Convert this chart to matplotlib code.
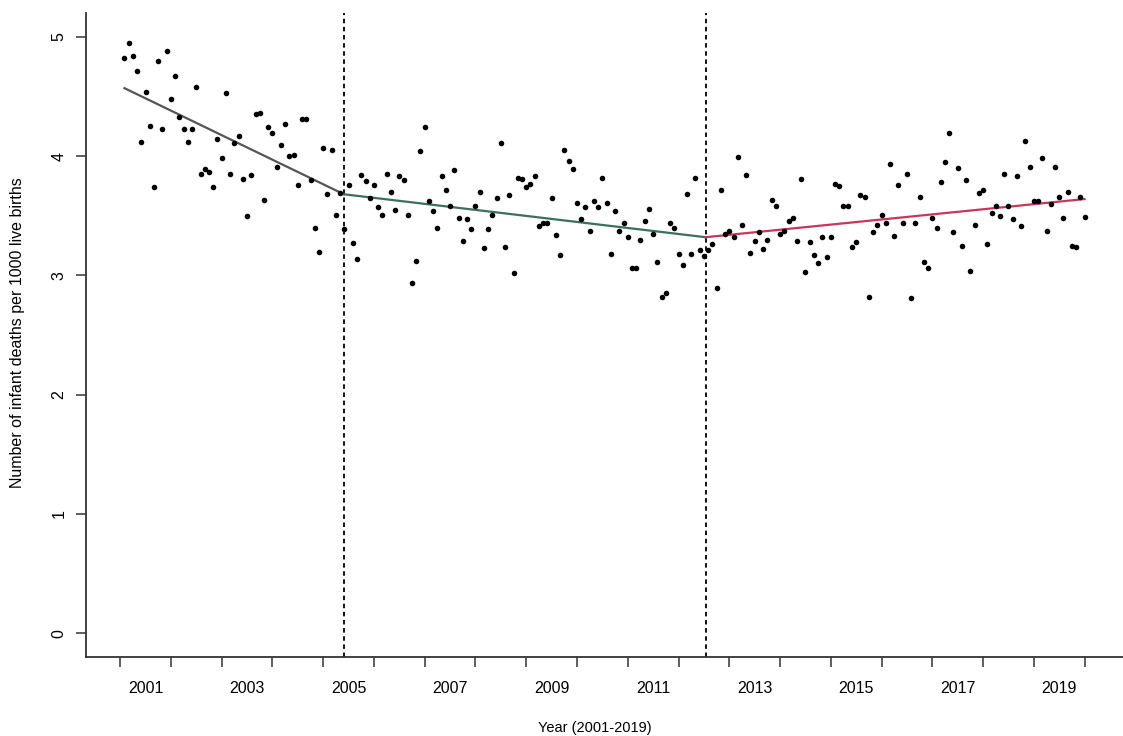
import numpy as np
import matplotlib
matplotlib.use("Agg")
import matplotlib.pyplot as plt

plt.rcParams['font.family'] = ['Liberation Sans', 'DejaVu Sans']

# monthly infant mortality rate, Jan 2001 .. Dec 2019 (month index 1..228)
months = np.arange(1, 229)
rate = [
    4.82, 4.95, 4.84, 4.71, 4.12, 4.54, 4.25, 3.74, 4.80, 4.23, 4.88, 4.48,
    4.67, 4.33, 4.23, 4.12, 4.23, 4.58, 3.85, 3.89, 3.87, 3.74, 4.14, 3.98,
    4.53, 3.85, 4.11, 4.17, 3.81, 3.50, 3.84, 4.35, 4.36, 3.63, 4.24, 4.19,
    3.91, 4.09, 4.27, 4.00, 4.01, 3.76, 4.31, 4.31, 3.80, 3.40, 3.20, 4.07,
    3.68, 4.05, 3.51, 3.69, 3.39, 3.76, 3.27, 3.14, 3.84, 3.79, 3.65, 3.76,
    3.57, 3.51, 3.85, 3.70, 3.55, 3.83, 3.80, 3.51, 2.94, 3.12, 4.04, 4.24,
    3.62, 3.54, 3.40, 3.83, 3.72, 3.58, 3.88, 3.48, 3.29, 3.47, 3.39, 3.58,
    3.70, 3.23, 3.39, 3.51, 3.65, 4.11, 3.24, 3.67, 3.02, 3.82, 3.81, 3.74,
    3.77, 3.83, 3.41, 3.44, 3.44, 3.65, 3.34, 3.17, 4.05, 3.96, 3.89, 3.61,
    3.47, 3.57, 3.37, 3.62, 3.57, 3.82, 3.61, 3.18, 3.54, 3.37, 3.44, 3.32,
    3.06, 3.06, 3.30, 3.46, 3.56, 3.35, 3.11, 2.82, 2.85, 3.44, 3.40, 3.18,
    3.09, 3.68, 3.18, 3.82, 3.21, 3.16, 3.21, 3.26, 2.89, 3.72, 3.35, 3.37,
    3.32, 3.99, 3.42, 3.84, 3.19, 3.29, 3.36, 3.22, 3.30, 3.63, 3.58, 3.35,
    3.37, 3.46, 3.48, 3.29, 3.81, 3.03, 3.28, 3.17, 3.10, 3.32, 3.15, 3.32,
    3.77, 3.75, 3.58, 3.58, 3.24, 3.28, 3.67, 3.66, 2.82, 3.36, 3.42, 3.51,
    3.44, 3.93, 3.33, 3.76, 3.44, 3.85, 2.81, 3.44, 3.66, 3.11, 3.06, 3.48,
    3.40, 3.78, 3.95, 4.19, 3.36, 3.90, 3.25, 3.80, 3.04, 3.42, 3.69, 3.72,
    3.26, 3.52, 3.58, 3.50, 3.85, 3.58, 3.47, 3.83, 3.41, 4.13, 3.91, 3.62,
    3.62, 3.98, 3.37, 3.60, 3.91, 3.66, 3.48, 3.70, 3.25, 3.24, 3.66, 3.49,
]

# segmented regression fit: breakpoints and fitted values at segment ends
seg_x = [1, 52.9, 138.4, 228]
seg_y = [4.57, 3.68, 3.32, 3.64]
seg_colors = ['#555555', '#3d6f60', '#c8375a']
breaks = [52.9, 138.4]

years = list(range(2001, 2020))
tick_pos = [12 * (y - 2001) for y in years] + [228]
label_years = years[::2]
label_pos = [12 * (y - 2001) + 6 for y in label_years]

fig = plt.figure(figsize=(11.23, 7.36), dpi=100)
ax = fig.add_axes([86 / 1123, 1 - 657 / 736, 1 - 86 / 1123, (657 - 13) / 736])

for b in breaks:
    ax.axvline(b, color='black', ls=(0, (2.5, 2)), lw=1.3, zorder=1)

ax.plot(months, rate, 'o', color='black', ms=4.0, mec='none', zorder=3)

for i in range(3):
    ax.plot(seg_x[i:i + 2], seg_y[i:i + 2], color=seg_colors[i], lw=1.6, zorder=2)

ax.set_xlim(1 - 0.04 * 227, 228 + 0.04 * 227)
ax.set_ylim(-0.2, 5.2)

ax.spines['top'].set_visible(False)
ax.spines['right'].set_visible(False)
for s in ('left', 'bottom'):
    ax.spines[s].set_linewidth(1.3)
    ax.spines[s].set_color('#333333')

ax.set_xticks(tick_pos)
ax.set_xticklabels([])
ax.set_xticks(label_pos, minor=True)
ax.set_xticklabels([str(y) for y in label_years], minor=True)
ax.tick_params(axis='x', which='major', length=7, width=1.1, color='#333333')
ax.tick_params(axis='x', which='minor', length=0, pad=17, labelsize=11.5)

ax.set_yticks(range(6))
ax.set_yticklabels([str(v) for v in range(6)], rotation=90, va='center')
ax.tick_params(axis='y', length=7, width=1.1, color='#333333', pad=7, labelsize=11.5)

fig.text(595 / 1123, 1 - 728 / 736, 'Year (2001-2019)', ha='center', va='center', fontsize=10.5)
fig.text(18 / 1123, 1 - 333 / 736, 'Number of infant deaths per 1000 live births',
         ha='center', va='center', rotation=90, fontsize=11.5)

fig.savefig('out.png', dpi=100)
